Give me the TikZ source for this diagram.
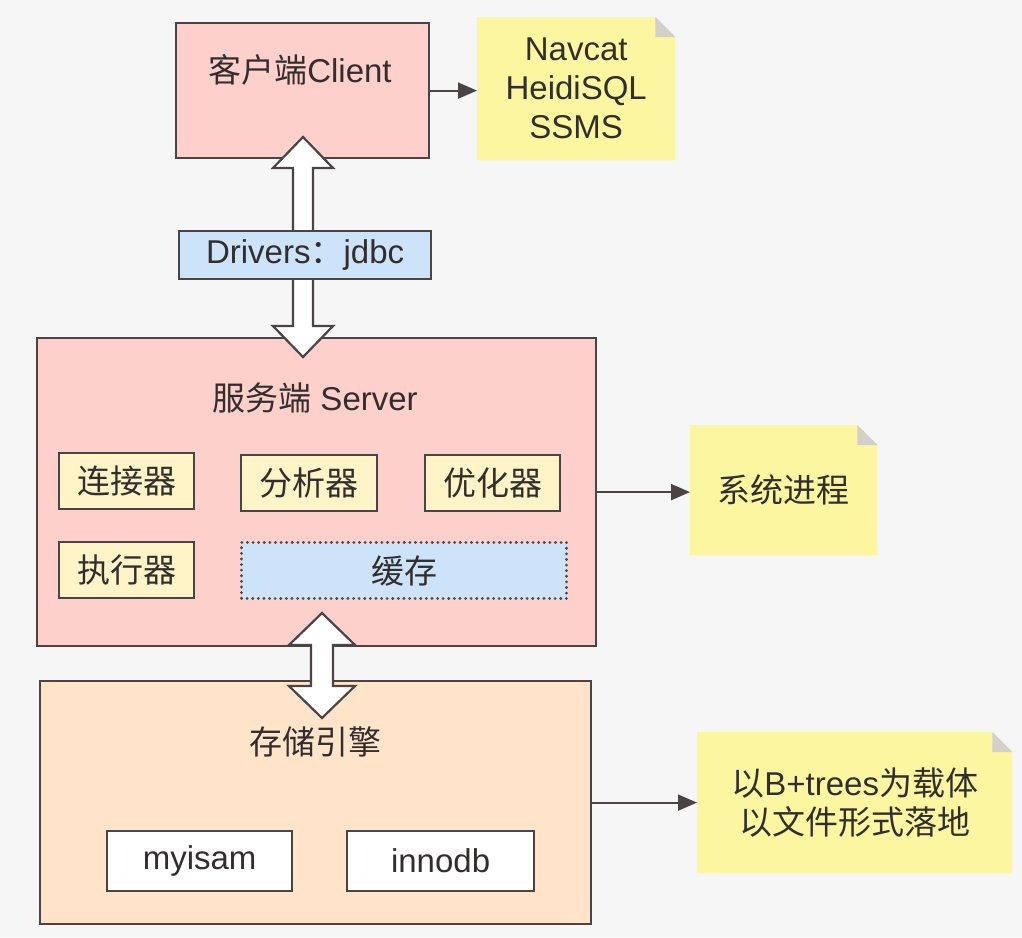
\documentclass[tikz,border=0pt]{standalone}
\usepackage{fontspec}
\setmainfont{Liberation Sans}
\newfontfamily\cjk{Noto Sans CJK SC}
\usetikzlibrary{arrows.meta,calc}
\definecolor{bg}{HTML}{F6F6F6}
\definecolor{pinkf}{HTML}{FDD0CB}
\definecolor{peachf}{HTML}{FFE4CA}
\definecolor{yelf}{HTML}{FFF4C8}
\definecolor{bluef}{HTML}{CCE3FA}
\definecolor{notef}{HTML}{FCF6A0}
\definecolor{foldc}{HTML}{D2D0C8}
\definecolor{edge}{HTML}{4A4444}
\definecolor{txt}{HTML}{332E2E}
\begin{document}
\begin{tikzpicture}[x=1pt,y=-1pt,
  every node/.style={font=\fontsize{33}{39}\selectfont, text=txt},
  box/.style={draw=edge, line width=2.2pt, inner sep=0pt, anchor=north west},
  lbl/.style={inner sep=0pt, anchor=center},
  notebox/.style={inner sep=0pt, anchor=north west},
  conn/.style={draw=edge, line width=2pt, -{Triangle[length=19pt,width=16pt]}},
  hollow/.style={draw=edge, fill=white, line width=2.2pt, line join=miter}]
\fill[bg] (0,0) rectangle (1022,937);
\useasboundingbox (0,0) rectangle (1022,937);

% main boxes
\node[box, fill=pinkf, minimum width=253pt, minimum height=135pt] (cl) at (175,22) {};
\node[lbl] (clt) at (300,70) {{\cjk 客户端}Client};
\node[box, fill=pinkf, minimum width=559pt, minimum height=308pt] (sv) at (36,337) {};
\node[lbl] (svt) at (315,398) {{\cjk 服务端} Server};
\node[box, fill=peachf, minimum width=551pt, minimum height=243pt] (st) at (39,680) {};
\node[lbl] (stt) at (315,742) {\cjk 存储引擎};

% inner components
\node[box, fill=yelf, minimum width=135pt, minimum height=56pt] (lj) at (58,452) {};
\node[lbl] at (lj.center) {\cjk 连接器};
\node[box, fill=yelf, minimum width=136pt, minimum height=56pt] (fx) at (240,454) {};
\node[lbl] at (fx.center) {\cjk 分析器};
\node[box, fill=yelf, minimum width=135pt, minimum height=56pt] (yh) at (424,454) {};
\node[lbl] at (yh.center) {\cjk 优化器};
\node[box, fill=yelf, minimum width=135pt, minimum height=56pt] (zx) at (58,541) {};
\node[lbl] at (zx.center) {\cjk 执行器};
\node[box, fill=bluef, minimum width=325pt, minimum height=56pt, dash pattern=on 0.1pt off 5.5pt, line cap=round, line width=3pt] (hc) at (240,541) {};
\node[lbl] at (hc.center) {\cjk 缓存};

\node[box, fill=white, minimum width=185pt, minimum height=60pt] (my) at (106,830) {};
\node[lbl] at (my.center) {myisam};
\node[box, fill=white, minimum width=187pt, minimum height=60pt] (inn) at (346,830) {};
\node[lbl] at (inn.center) {innodb};

% notes
\node[notebox, minimum width=198pt, minimum height=143pt] (n1) at (477,17) {};
\node[notebox, minimum width=187pt, minimum height=130pt] (n2) at (690,425) {};
\node[notebox, minimum width=315pt, minimum height=141pt] (n3) at (697,732) {};
\foreach \n in {n1,n2,n3}{
  \fill[notef] (\n.north west) -- ($(\n.north east)+(-20,0)$) -- ($(\n.north east)+(0,20)$) -- (\n.south east) -- (\n.south west) -- cycle;
  \fill[foldc] ($(\n.north east)+(-20,0)$) -- ($(\n.north east)+(-20,20)$) -- ($(\n.north east)+(0,20)$) -- cycle;
}
\node[lbl, align=center] at (n1.center) {Navcat\\HeidiSQL\\SSMS};
\node[lbl, align=center] at (n2.center) {\cjk 系统进程};
\node[lbl, align=center] at (n3.center) {{\cjk 以}B+trees{\cjk 为载体}\\{\cjk 以文件形式落地}};

% simple connectors
\draw[conn] (cl.east) -- (cl.east -| n1.west);
\draw[conn] (sv.east) -- (sv.east -| n2.west);
\draw[conn] (st.east) -- (st.east -| n3.west);

% hollow double arrows
\coordinate (t1) at (303,137);
\coordinate (b1) at (303,357);
\draw[hollow] (t1) -- ($(t1)+(30,31)$) -- ($(t1)+(10,31)$) -- ($(b1)+(10,-31)$) -- ($(b1)+(30,-31)$) -- (b1)
  -- ($(b1)+(-30,-31)$) -- ($(b1)+(-10,-31)$) -- ($(t1)+(-10,31)$) -- ($(t1)+(-30,31)$) -- cycle;
\coordinate (t2) at (322,613);
\coordinate (b2) at (322,718);
\draw[hollow] (t2) -- ($(t2)+(33,32)$) -- ($(t2)+(11,32)$) -- ($(b2)+(11,-32)$) -- ($(b2)+(33,-32)$) -- (b2)
  -- ($(b2)+(-33,-32)$) -- ($(b2)+(-11,-32)$) -- ($(t2)+(-11,32)$) -- ($(t2)+(-33,32)$) -- cycle;

% drivers box on top of the arrow
\node[box, fill=bluef, minimum width=252pt, minimum height=48pt] (dr) at (178,230) {};
\node[lbl] at (dr.center) {Drivers{\cjk ：}jdbc};
\end{tikzpicture}
\end{document}
